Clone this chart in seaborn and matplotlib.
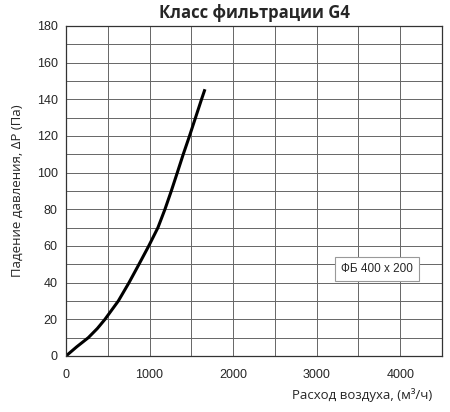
import numpy as np
import pandas as pd
import matplotlib
matplotlib.use("Agg")
import matplotlib.pyplot as plt
import seaborn as sns

# curve
airflow = [0, 128, 267, 375, 466, 626, 754, 873, 990, 1100, 1184, 1260, 1332, 1403, 1478, 1550, 1622, 1663]
pressure = [0, 5, 10, 15, 20, 30, 40, 50, 60, 70, 80, 90, 100, 110, 120, 130, 140, 145.5]

x_ticks = [0, 1000, 2000, 3000, 4000]
y_ticks = [0, 20, 40, 60, 80, 100, 120, 140, 160, 180]
label_text = "ФБ 400 x 200"

df = pd.DataFrame({"flow": airflow, "dp": pressure})

sns.set_style("white")
plt.rcParams["font.family"] = ["Liberation Sans", "DejaVu Sans"]

fig = plt.figure(figsize=(4.5, 4.12), dpi=100)
ax = fig.add_axes([66 / 450, 1 - 356 / 412, (442 - 66) / 450, (356 - 26) / 412])

sns.lineplot(data=df, x="flow", y="dp", ax=ax, color="black", linewidth=2.2,
             solid_joinstyle="round", solid_capstyle="butt")

ax.set_xlim(0, 4500)
ax.set_ylim(0, 180)
ax.set_xticks(np.arange(0, 4501, 500), minor=True)
ax.set_yticks(np.arange(0, 181, 10), minor=True)
ax.set_xticks(x_ticks)
ax.set_yticks(y_ticks)
ax.grid(True, which="both", color="#666666", linewidth=0.7)
ax.set_axisbelow(True)
ax.tick_params(which="both", length=0, labelsize=9)
ax.tick_params(axis="x", pad=9)
ax.tick_params(axis="y", pad=6)
for s in ax.spines.values():
    s.set_color("#333333")
    s.set_linewidth(0.9)

ax.set_xlabel("Расход воздуха, (м³/ч)", fontsize=9.5, family="Open Sans")
ax.xaxis.set_label_coords(0.975, -0.118)
ax.xaxis.label.set_horizontalalignment("right")
ax.xaxis.label.set_verticalalignment("center")
ax.set_ylabel("Падение давления, ΔP (Па)", fontsize=9.5, family="Open Sans", labelpad=9)
ax.set_title("Класс фильтрации G4", fontsize=12, fontweight="bold", family="Open Sans", pad=6)

ax.text(3720, 47.5, label_text, fontsize=8.5, ha="center", va="center",
        bbox=dict(boxstyle="square,pad=0.5", facecolor="white", edgecolor="#999999", linewidth=0.8))

fig.savefig("out.png", dpi=100)
